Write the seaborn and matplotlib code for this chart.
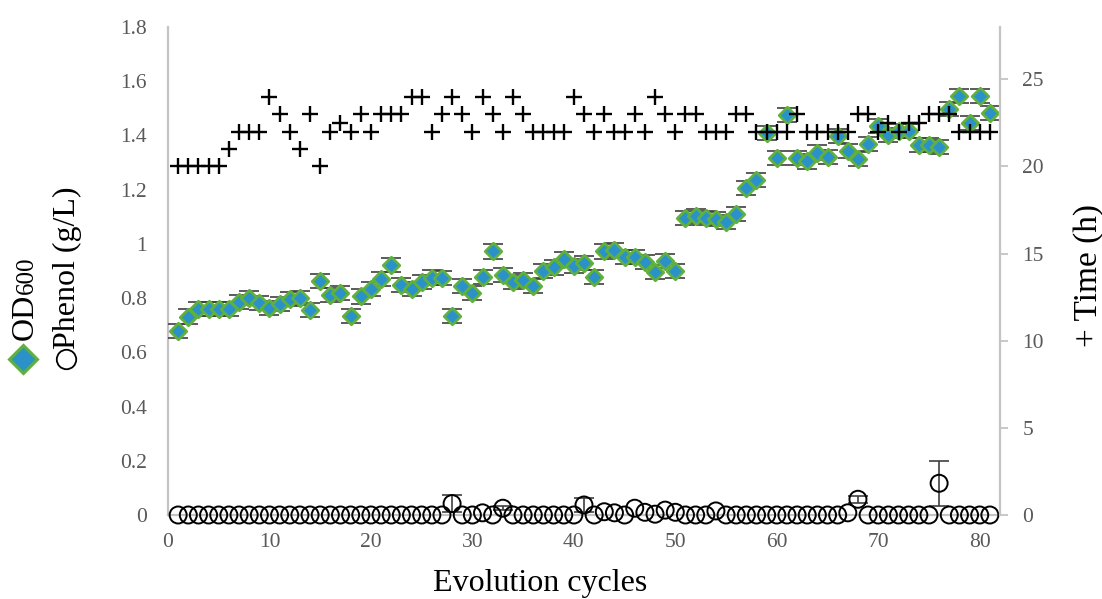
import numpy as np
import pandas as pd
import matplotlib
matplotlib.use("Agg")
import matplotlib.pyplot as plt
import seaborn as sns
from matplotlib.lines import Line2D
from matplotlib.ticker import FuncFormatter, MultipleLocator

# ---------------- data ----------------
cycles = list(range(1, 82))

od600 = [0.680, 0.732, 0.760, 0.760, 0.760, 0.760, 0.787, 0.800, 0.783, 0.762,
         0.777, 0.797, 0.800, 0.756, 0.863, 0.810, 0.820, 0.735, 0.806, 0.833,
         0.870, 0.922, 0.849, 0.833, 0.859, 0.876, 0.873, 0.734, 0.846, 0.820,
         0.879, 0.972, 0.886, 0.861, 0.867, 0.845, 0.900, 0.913, 0.943, 0.919,
         0.929, 0.879, 0.972, 0.978, 0.951, 0.950, 0.932, 0.896, 0.938, 0.901,
         1.097, 1.103, 1.097, 1.091, 1.082, 1.110, 1.205, 1.236, 1.410, 1.316,
         1.476, 1.316, 1.304, 1.337, 1.322, 1.399, 1.344, 1.312, 1.369, 1.435,
         1.402, 1.417, 1.417, 1.365, 1.365, 1.359, 1.497, 1.544, 1.445, 1.547,
         1.484]
od600_err = 0.026

phenol = [0, 0, 0, 0, 0, 0, 0, 0, 0, 0,
          0, 0, 0, 0, 0, 0, 0, 0, 0, 0,
          0, 0, 0, 0, 0, 0, 0, 0.042, 0, 0,
          0.008, 0, 0.025, 0, 0, 0, 0, 0, 0, 0,
          0.037, 0, 0.012, 0.008, 0, 0.025, 0.010, 0.003, 0.018, 0.010,
          0, 0, 0, 0.015, 0, 0, 0, 0, 0, 0,
          0, 0, 0, 0, 0, 0, 0.008, 0.058, 0, 0,
          0, 0, 0, 0, 0, 0.117, 0, 0, 0, 0,
          0]
phenol_err = [0, 0, 0, 0, 0, 0, 0, 0, 0, 0,
              0, 0, 0, 0, 0, 0, 0, 0, 0, 0,
              0, 0, 0, 0, 0, 0, 0, 0.030, 0, 0,
              0, 0, 0.008, 0, 0, 0, 0, 0, 0, 0,
              0.025, 0, 0, 0, 0, 0, 0, 0, 0, 0,
              0, 0, 0, 0, 0, 0, 0, 0, 0, 0,
              0, 0, 0, 0, 0, 0, 0, 0.012, 0, 0,
              0, 0, 0, 0, 0, 0.082, 0, 0, 0, 0,
              0]

time_h = [20, 20, 20, 20, 20, 21, 22, 22, 22, 24,
          23, 22, 21, 23, 20, 22, 22.5, 22, 23, 22,
          23, 23, 23, 24, 24, 22, 23, 24, 23, 22,
          24, 23, 22, 24, 23, 22, 22, 22, 22, 24,
          23, 22, 23, 22, 22, 23, 22, 24, 23, 22,
          23, 23, 22, 22, 22, 23, 23, 22, 22, 22,
          22, 23, 22, 22, 22, 22, 22, 23, 23, 22,
          22.5, 22, 22.5, 22.5, 23, 23, 23, 22, 22, 22,
          22]

x_ticks = [0, 10, 20, 30, 40, 50, 60, 70, 80]
left_ticks = [0, 0.2, 0.4, 0.6, 0.8, 1.0, 1.2, 1.4, 1.6, 1.8]
right_ticks = [0, 5, 10, 15, 20, 25]

df = pd.DataFrame({"cycle": cycles, "od600": od600, "phenol": phenol,
                   "phenol_err": phenol_err, "time": time_h})

# ---------------- style ----------------
sns.set_style("white")
plt.rcParams["font.family"] = ["Liberation Serif", "DejaVu Serif"]

W, H = 1102, 599
fig = plt.figure(figsize=(W / 100, H / 100), dpi=100)
ax = fig.add_axes([168 / W, 1 - 515 / H, (1000 - 168) / W, (515 - 27) / H])
ax2 = ax.twinx()

SPINE = "#c4c4c4"
TICKC = "#595959"
ERRC = "#3f3f3f"
FILL = "#2b92c9"
EDGE = "#5fb13c"

# phenol (hollow circles)
pe = df[df["phenol_err"] > 0]
ax.errorbar(pe["cycle"], pe["phenol"], yerr=pe["phenol_err"], fmt="none",
            ecolor=ERRC, elinewidth=1.2, capsize=7, capthick=1.2, zorder=2)
sns.scatterplot(data=df, x="cycle", y="phenol", marker="o", s=150,
                facecolor="none", edgecolor="black", linewidth=1.4,
                ax=ax, zorder=3, legend=False, clip_on=False)

# OD600 (diamonds)
ax.errorbar(df["cycle"], df["od600"], yerr=od600_err, fmt="none",
            ecolor=ERRC, elinewidth=1.2, capsize=7, capthick=1.2, zorder=4)
sns.scatterplot(data=df, x="cycle", y="od600", marker="D", s=72,
                color=FILL, edgecolor=EDGE, linewidth=1.9,
                ax=ax, zorder=5, legend=False)

# Time (+)
sns.scatterplot(data=df, x="cycle", y="time", marker="+", s=120,
                color="black", linewidth=1.7, ax=ax2, zorder=6, legend=False)

# ---------------- axes ----------------
ax.set_xlim(0, 82)
ax.set_ylim(0, 1.8)
ax2.set_ylim(0, 28)
ax.set_xticks(x_ticks)
ax.set_yticks(left_ticks)
ax2.set_yticks(right_ticks)
ax.yaxis.set_major_formatter(FuncFormatter(lambda v, p: f"{v:g}"))
ax.set_xlabel("")
ax.set_ylabel("")
ax2.set_ylabel("")

for a in (ax, ax2):
    for s in a.spines.values():
        s.set_visible(False)
ax.spines["left"].set_visible(True)
ax.spines["bottom"].set_visible(True)
ax2.spines["right"].set_visible(True)
for s in (ax.spines["left"], ax.spines["bottom"], ax2.spines["right"]):
    s.set_color(SPINE)
    s.set_linewidth(1.6)
ax.spines["bottom"].set_zorder(0)

ax.tick_params(axis="y", length=0, pad=15, labelsize=15.5, labelcolor=TICKC)
ax.tick_params(axis="x", length=0, pad=13, labelsize=15.5, labelcolor=TICKC)
ax2.tick_params(axis="y", length=6, width=1.3, color=SPINE, direction="out",
                pad=10, labelsize=15.5, labelcolor=TICKC)
ax.set_zorder(1)
ax2.set_zorder(2)
ax.patch.set_visible(False)

# x label
fig.text(540 / W, 1 - 584 / H, "Evolution cycles", ha="center", va="center",
         fontsize=23, color="black")

# left composite label
t_od = fig.text(33 / W, 1 - 340 / H, "OD", rotation=90, rotation_mode="anchor",
                ha="left", va="baseline", fontsize=23, color="black")
fig.canvas.draw()
bb = t_od.get_window_extent()
top_px = bb.y1
fig.text(33 / W, top_px / H, "600", rotation=90, rotation_mode="anchor",
         ha="left", va="baseline", fontsize=18, color="black")
fig.add_artist(Line2D([23 / W], [1 - 359 / H], marker="D", markersize=14,
                      markerfacecolor=FILL, markeredgecolor=EDGE,
                      markeredgewidth=2.2, linestyle="none",
                      transform=fig.transFigure))
fig.add_artist(Line2D([66 / W], [1 - 359 / H], marker="o", markersize=14,
                      markerfacecolor="none", markeredgecolor="black",
                      markeredgewidth=1.3, linestyle="none",
                      transform=fig.transFigure))
fig.text(75 / W, 1 - 349 / H, "Phenol (g/L)", rotation=90,
         rotation_mode="anchor", ha="left", va="baseline", fontsize=23,
         color="black")

# right label
fig.text(1097 / W, 1 - 347 / H, "+ Time (h)", rotation=90,
         rotation_mode="anchor", ha="left", va="baseline", fontsize=24,
         color="black")

fig.savefig("out.png", dpi=100)
